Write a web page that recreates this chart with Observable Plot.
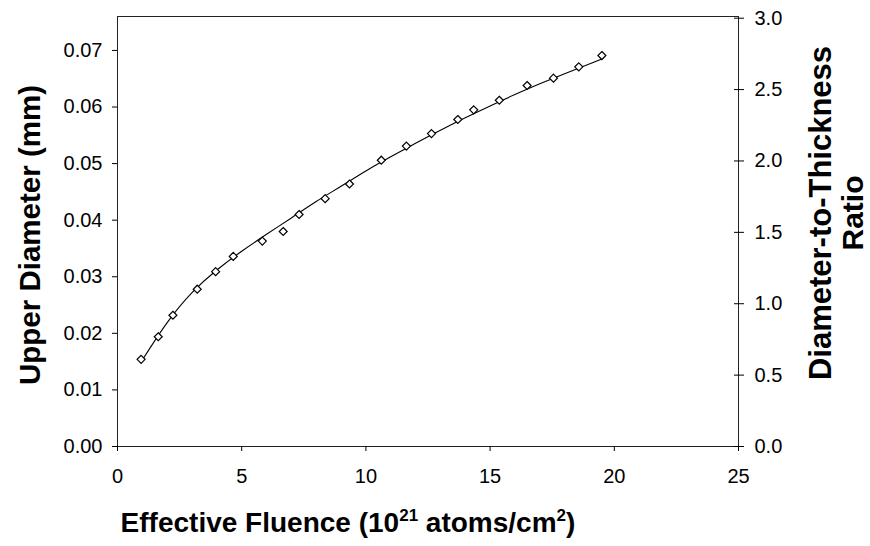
<!DOCTYPE html>
<html>
<head>
<meta charset="utf-8">
<script src="https://cdn.jsdelivr.net/npm/d3@7"></script>
<script src="https://cdn.jsdelivr.net/npm/@observablehq/plot@0.6"></script>
<style>
  html, body { margin: 0; padding: 0; background: #fff; }
  #chart svg { display: block; }
</style>
</head>
<body>
<div id="chart"></div>
<script>
// Measured points: effective fluence (10^21 atoms/cm^2) vs upper diameter (mm)
const fluence = [0.95, 1.64, 2.23, 3.21, 3.95, 4.66, 5.83, 6.67, 7.31, 8.36, 9.34, 10.62, 11.63, 12.64, 13.70, 14.34, 15.37, 16.49, 17.55, 18.57, 19.50];
const diameter = [0.0154, 0.0194, 0.0232, 0.0278, 0.0309, 0.0336, 0.0363, 0.0380, 0.0410, 0.0438, 0.0464, 0.0506, 0.0531, 0.0553, 0.0578, 0.0595, 0.0612, 0.0638, 0.0651, 0.0671, 0.0691];

// Fitted curve
const fitFluence = [1, 2, 3, 4, 5, 6, 7, 8, 9, 10, 11, 12, 13, 14, 15, 16, 17, 18, 19.5];
const fitDiameter = [0.0153, 0.0219, 0.0272, 0.0312, 0.0345, 0.0375, 0.0404, 0.0433, 0.0460, 0.0487, 0.0512, 0.0536, 0.0559, 0.0581, 0.0602, 0.0622, 0.0641, 0.0659, 0.0685];

// Tick labels
const xTicks = [0, 5, 10, 15, 20, 25];
const yTicks = [0, 0.01, 0.02, 0.03, 0.04, 0.05, 0.06, 0.07];
const ratioTicks = [0, 0.5, 1.0, 1.5, 2.0, 2.5, 3.0];
const ratioMaxDiameter = 0.0757; // diameter value where ratio axis reads 3.0
const k = ratioMaxDiameter / 3;

const points = fluence.map((x, i) => ({x, y: diameter[i]}));
const fit = fitFluence.map((x, i) => ({x, y: fitDiameter[i]}));

const FONT = "'Liberation Sans', Arial, Helvetica, sans-serif";

const svg = Plot.plot({
  width: 870,
  height: 546,
  marginLeft: 117,
  marginRight: 132,
  marginTop: 16,
  marginBottom: 100,
  style: {fontFamily: FONT, fontSize: "20px", color: "#000", background: "#fff"},
  x: {domain: [0, 25]},
  y: {domain: [0, 0.0760]},
  marks: [
    Plot.frame({stroke: "#222", strokeWidth: 1}),
    Plot.axisX({ticks: xTicks, tickSize: 5, tickPadding: 17, fontSize: 20, label: null, tickFormat: d3.format("d")}),
    Plot.axisY({ticks: yTicks, tickSize: 5, tickPadding: 10, fontSize: 20, label: null, tickFormat: d3.format(".2f")}),
    Plot.axisY({anchor: "right", ticks: ratioTicks.map(r => r * k), tickSize: 10, dx: -5, tickPadding: 11, fontSize: 20, label: null, tickFormat: d => (d / k).toFixed(1)}),
    Plot.line(fit, {x: "x", y: "y", curve: "natural", stroke: "#000", strokeWidth: 1.1}),
    Plot.dot(points, {x: "x", y: "y", symbol: "diamond2", r: 3.6, stroke: "#000", fill: "#fff", strokeWidth: 1.2})
  ]
});

const s = d3.select(svg);
const titleStyle = (t, size) => t.attr("font-family", FONT).attr("font-weight", "bold").attr("font-size", size).attr("fill", "#000");

// Left title
s.append("text").call(titleStyle, 29.5)
  .attr("transform", "translate(29,235) rotate(-90)")
  .attr("text-anchor", "middle").attr("dominant-baseline", "central")
  .text("Upper Diameter (mm)");

// Right title (two lines)
s.append("text").call(titleStyle, 31)
  .attr("transform", "translate(820,213) rotate(-90)")
  .attr("text-anchor", "middle").attr("dominant-baseline", "central")
  .text("Diameter-to-Thickness");
s.append("text").call(titleStyle, 30)
  .attr("transform", "translate(852,213) rotate(-90)")
  .attr("text-anchor", "middle").attr("dominant-baseline", "central")
  .text("Ratio");

// Bottom title with superscripts
const xt = s.append("text").call(titleStyle, 28)
  .attr("x", 348).attr("y", 532).attr("text-anchor", "middle");
xt.append("tspan").text("Effective Fluence (10");
xt.append("tspan").attr("font-size", 17).attr("dy", -11).text("21");
xt.append("tspan").attr("dy", 11).text(" atoms/cm");
xt.append("tspan").attr("font-size", 17).attr("dy", -11).text("2");
xt.append("tspan").attr("dy", 11).text(")");

document.getElementById("chart").appendChild(svg);
</script>
</body>
</html>
